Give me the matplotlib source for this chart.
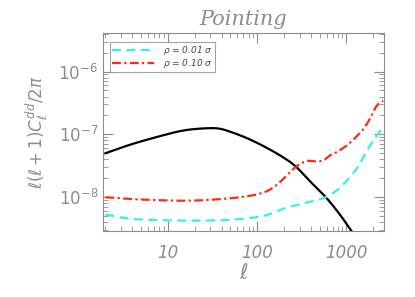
import matplotlib
matplotlib.use("Agg")
import matplotlib.pyplot as plt
import numpy as np

# values (l, l(l+1)C_l/2pi)
ell_sig = [2, 4.1, 9.7, 16, 27, 38, 54, 83, 128, 196, 272, 389, 587, 843, 1137]
sig = [5.0e-8, 7.1e-8, 1.0e-7, 1.17e-7, 1.25e-7, 1.23e-7, 1.06e-7, 8.3e-8, 6.1e-8, 4.3e-8,
       3.06e-8, 1.8e-8, 1.0e-8, 5.3e-9, 2.9e-9]

ell_a = [2, 4.1, 13.7, 38, 64, 107, 155, 210, 300, 420, 587, 843, 1290, 1820, 2550]
rho_a = [5.3e-9, 4.5e-9, 4.25e-9, 4.3e-9, 4.5e-9, 4.9e-9, 5.7e-9, 6.8e-9, 7.7e-9, 8.7e-9,
         1.0e-8, 1.42e-8, 2.8e-8, 6.5e-8, 1.3e-7]

ell_b = [2, 4.1, 13.7, 30, 64, 107, 151, 214, 272, 357, 450, 548, 650, 773, 1000, 1250, 1535,
         1800, 2160, 2570]
rho_b = [1.0e-8, 9.3e-9, 8.8e-9, 9.1e-9, 1.0e-8, 1.14e-8, 1.42e-8, 2.2e-8, 3.06e-8, 3.76e-8,
         3.7e-8, 3.85e-8, 4.6e-8, 5.2e-8, 6.6e-8, 8.8e-8, 1.2e-7, 1.7e-7, 2.8e-7, 3.4e-7]

grey = "#8c8c8c"

def smooth(x, y, n=20):
    # catmull-rom through the read points, in log-log space
    p = np.column_stack([np.log10(x), np.log10(y)])
    p = np.vstack([2*p[0]-p[1], p, 2*p[-1]-p[-2]])
    out = []
    t = np.linspace(0, 1, n, endpoint=False)[:, None]
    for i in range(1, len(p)-2):
        p0, p1, p2, p3 = p[i-1], p[i], p[i+1], p[i+2]
        seg = 0.5*((2*p1) + (-p0+p2)*t + (2*p0-5*p1+4*p2-p3)*t**2 + (-p0+3*p1-3*p2+p3)*t**3)
        out.append(seg)
    out.append(p[-2][None, :])
    out = np.vstack(out)
    return 10**out[:, 0], 10**out[:, 1]

fig = plt.figure(figsize=(4.15, 2.97), dpi=100)
ax = fig.add_axes([103/415, 1-231/297, 281/415, 198/297])

xs, ys = smooth(ell_sig, sig)
ax.plot(xs, ys, color="black", lw=1.6)
xs, ys = smooth(ell_a, rho_a)
ax.plot(xs, ys, color="#33f0f0", lw=1.6, ls=(0, (4, 2.5)), label=r"$\rho$ = 0.01 $\sigma$")
xs, ys = smooth(ell_b, rho_b)
ax.plot(xs, ys, color="#ff2a10", lw=1.6, ls=(0, (4, 1.5, 1, 1.5)), label=r"$\rho$ = 0.10 $\sigma$")

ax.set_xscale("log")
ax.set_yscale("log")
ax.set_xlim(1.88, 2630)
ax.set_ylim(2.9e-9, 4.1e-6)
ax.set_xticks([10, 100, 1000])
ax.set_xticklabels(["10", "100", "1000"], fontstyle="italic")
ax.set_yticks([1e-8, 1e-7, 1e-6])

for s in ax.spines.values():
    s.set_color(grey)
ax.tick_params(which="both", direction="in", top=True, right=True, colors=grey, labelsize=12)
ax.tick_params(which="major", length=7)
ax.tick_params(which="minor", length=3.5)
ax.tick_params(axis="x", pad=9)

ax.set_xlabel(r"$\ell$", color=grey, fontsize=15, labelpad=1)
ax.set_ylabel(r"$\ell(\ell+1)C_\ell^{dd}/2\pi$", color=grey, fontsize=12, labelpad=6)
ax.set_title("Pointing", color=grey, fontsize=15, family="DejaVu Serif", style="italic", pad=6)

leg = ax.legend(loc="upper left", fontsize=6.5, frameon=True, fancybox=False,
                bbox_to_anchor=(0.025, 0.955), borderaxespad=0, handlelength=4.6,
                labelspacing=0.0, borderpad=0.25, handletextpad=1.0)
leg.get_frame().set_edgecolor(grey)
leg.get_frame().set_linewidth(0.8)
for t in leg.get_texts():
    t.set_fontstyle("italic")
    t.set_color("#444444")

fig.savefig("out.png", dpi=100)
